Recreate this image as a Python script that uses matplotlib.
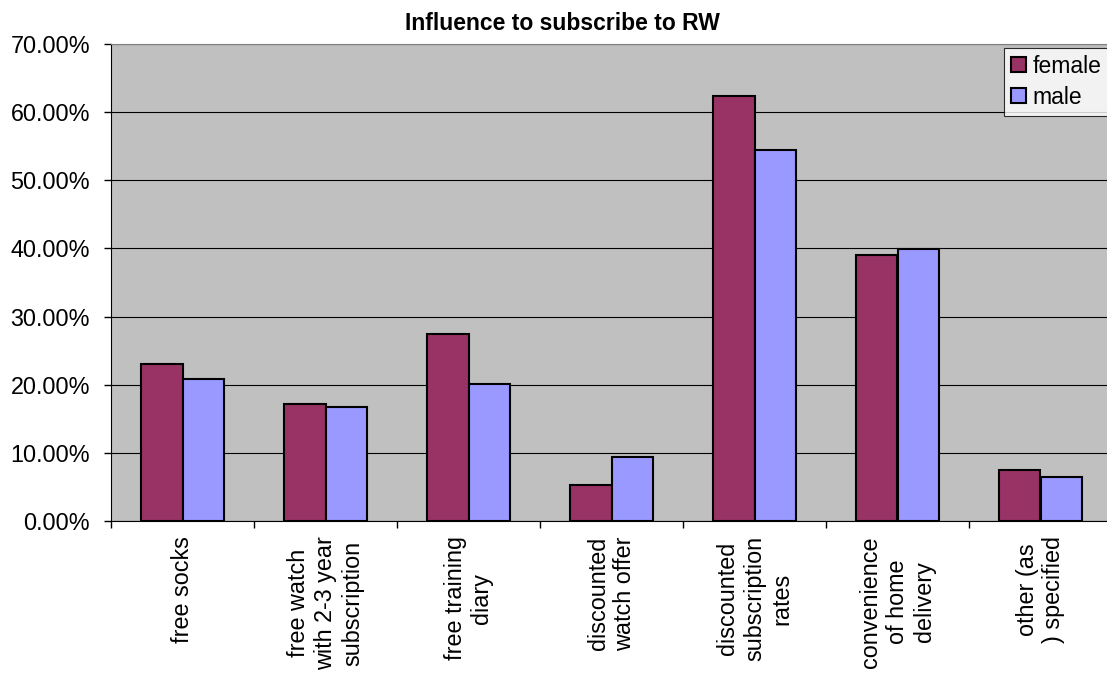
import numpy as np
import matplotlib
matplotlib.use('Agg')
import matplotlib.pyplot as plt
from matplotlib.ticker import FuncFormatter

plt.rcParams['font.family'] = ['Liberation Sans', 'DejaVu Sans']

categories = ['free socks', 'free watch\nwith 2-3 year\nsubscription', 'free training\ndiary',
              'discounted\nwatch offer', 'discounted\nsubscription\nrates',
              'convenience\nof home\ndelivery', 'other (as\n) specified']
female = [0.230, 0.171, 0.275, 0.053, 0.623, 0.391, 0.075]
male = [0.208, 0.168, 0.201, 0.094, 0.545, 0.399, 0.064]

fig = plt.figure(figsize=(11.07, 6.73), dpi=100)
ax = fig.add_axes([111/1107, 152/673, 1001/1107, 477/673])
ax.set_facecolor('#C0C0C0')

x = np.arange(len(categories))
w = 0.287
ax.bar(x - w/2, female, w, color='#993366', edgecolor='black', linewidth=1.5, label='female', zorder=3)
ax.bar(x + w/2, male, w, color='#9999FF', edgecolor='black', linewidth=1.5, label='male', zorder=3)

ax.set_xlim(-0.5, len(categories) - 0.5)
ax.set_ylim(0, 0.70)
ax.set_yticks(np.arange(0, 0.71, 0.10))
ax.yaxis.set_major_formatter(FuncFormatter(lambda v, p: '%.2f%%' % (v * 100)))
ax.yaxis.grid(True, color='black', linewidth=0.8, zorder=1)
ax.set_axisbelow(True)

# category boundaries as major ticks, labels on minor ticks
ax.set_xticks(np.arange(-0.5, len(categories), 1.0))
ax.set_xticklabels([])
ax.set_xticks(x, minor=True)
ax.set_xticklabels(categories, minor=True, rotation=90, va='top', ha='center',
                   multialignment='center', linespacing=1.22)
ax.tick_params(axis='x', which='major', length=5, width=1, direction='out')
ax.tick_params(axis='x', which='minor', length=0, pad=11, labelsize=16.8)
ax.tick_params(axis='y', length=5, width=1, pad=10, labelsize=16.8)

ax.spines['left'].set_color('black')
ax.spines['bottom'].set_color('black')
ax.spines['top'].set_color('#808080')
ax.spines['right'].set_visible(False)

fig.text(562/1107, 1 - 23/673, 'Influence to subscribe to RW', ha='center', va='center',
         fontsize=16.5, fontweight='bold')

leg = ax.legend(loc='upper left', bbox_to_anchor=(1004/1107, 1 - 48/673),
                bbox_transform=fig.transFigure, fontsize=16.5, frameon=True, fancybox=False,
                borderpad=0.3, labelspacing=0.35, handlelength=0.65, handleheight=0.65,
                handletextpad=0.3, borderaxespad=0)
leg.get_frame().set_edgecolor('black')
leg.get_frame().set_linewidth(0.8)

fig.savefig('out.png', dpi=100)
